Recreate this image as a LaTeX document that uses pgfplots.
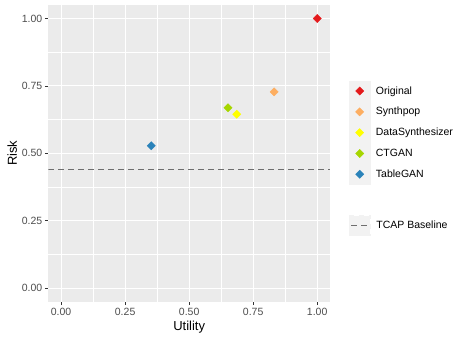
\documentclass[border=0pt]{standalone}
\usepackage{fontspec}
\setmainfont{Liberation Sans}
\usepackage{pgfplots}
\pgfplotsset{compat=1.18}

\definecolor{panelbg}{HTML}{EBEBEB}
\definecolor{keybg}{HTML}{F2F2F2}
\definecolor{ticktext}{HTML}{4D4D4D}
\definecolor{tickcol}{HTML}{333333}
\definecolor{cOriginal}{HTML}{E41A1C}
\definecolor{cSynthpop}{HTML}{FDAE61}
\definecolor{cDataSynth}{HTML}{FFFF00}
\definecolor{cCTGAN}{HTML}{A6D600}
\definecolor{cTableGAN}{HTML}{2B83BA}
\definecolor{cBase}{HTML}{6E6E6E}

\pgfplotsset{
  ggbase/.style={
    scale only axis,
    width=281.7pt, height=296.7pt,
    xmin=-0.05, xmax=1.05, ymin=-0.05, ymax=1.05,
  },
  pt/.style={only marks, mark=square*, mark size=2.9pt,
    mark options={rotate=45, draw=#1, fill=#1}},
  gglegend/.style={
    legend cell align=left,
    legend style={draw=none, fill=none, inner sep=0pt, outer sep=0pt,
      row sep=0pt, font=\fontsize{10.5}{12}\selectfont,
      /tikz/every odd column/.append style={column sep=3.5pt}},
  },
  dotkey/.style={legend image code/.code={
    \fill[keybg] (0pt,-10.2pt) rectangle (21pt,10.2pt);
    \draw[mark repeat=2, mark phase=2, ##1]
      plot coordinates {(0pt,0pt) (10.5pt,0pt) (21pt,0pt)};}},
}

\begin{document}
\begin{tikzpicture}
\useasboundingbox (-48.3pt,-38.3pt) rectangle (419.7pt,301.7pt);
\begin{axis}[
  ggbase,
  axis background/.style={fill=panelbg},
  axis line style={draw=none},
  xtick={0,0.25,0.5,0.75,1},
  ytick={0,0.25,0.5,0.75,1},
  minor xtick={0.125,0.375,0.625,0.875},
  minor ytick={0.125,0.375,0.625,0.875},
  xticklabels={0.00,0.25,0.50,0.75,1.00},
  yticklabels={0.00,0.25,0.50,0.75,1.00},
  grid=both,
  major grid style={white, line width=1.07pt},
  minor grid style={white, line width=0.53pt},
  tick align=outside,
  major tick length=3.3pt,
  minor tick length=0pt,
  tick style={tickcol, line width=0.8pt},
  xtick pos=bottom, ytick pos=left,
  tick label style={font=\fontsize{10.5}{12}\selectfont, text=ticktext},
  xticklabel style={inner sep=0pt, yshift=-2.6pt, anchor=north},
  yticklabel style={inner sep=0pt, xshift=-2.6pt, anchor=east},
  xlabel={Utility}, ylabel={Risk},
  every axis x label/.style={at={(axis description cs:0.5,0)}, yshift=-25pt,
    anchor=center, font=\fontsize{13}{15}\selectfont},
  every axis y label/.style={at={(axis description cs:0,0.5)}, xshift=-36pt,
    rotate=90, anchor=center, font=\fontsize{13}{15}\selectfont},
  gglegend, dotkey,
  legend style={at={(axis description cs:1,0.745)}, anchor=north west, xshift=19pt},
]
\addplot[pt=cOriginal] coordinates {(1.000,1.000)};
\addplot[pt=cSynthpop] coordinates {(0.832,0.728)};
\addplot[pt=cDataSynth] coordinates {(0.686,0.645)};
\addplot[pt=cCTGAN] coordinates {(0.652,0.669)};
\addplot[pt=cTableGAN] coordinates {(0.352,0.528)};
\legend{Original, Synthpop, DataSynthesizer, CTGAN, TableGAN}
\end{axis}
\begin{axis}[
  ggbase, hide axis, gglegend,
  legend image code/.code={
    \fill[keybg] (0pt,-10.2pt) rectangle (21pt,10.2pt);
    \draw[#1] (2pt,0pt) -- (19pt,0pt);},
  legend style={at={(axis description cs:1,0.292)}, anchor=north west, xshift=19pt},
]
\addplot[draw=cBase, line width=0.9pt, dash pattern=on 5.3pt off 4.7pt]
  coordinates {(-0.05,0.442) (1.05,0.442)};
\legend{TCAP Baseline}
\end{axis}
\end{tikzpicture}
\end{document}
